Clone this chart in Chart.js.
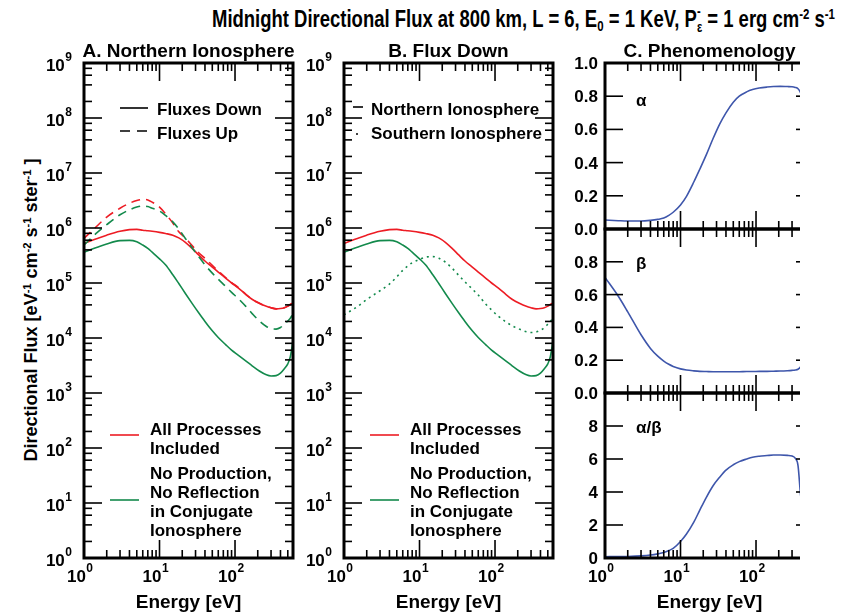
<!DOCTYPE html>
<html><head><meta charset="utf-8">
<script src="https://cdn.jsdelivr.net/npm/chart.js@4.4.1/dist/chart.umd.min.js"></script>
<style>
html,body{margin:0;padding:0;background:#fff;}
#wrap{position:relative;width:841px;height:616px;overflow:hidden;background:#fff;font-family:'Liberation Sans',Arial,Helvetica,sans-serif;color:#000;}
canvas{position:absolute;left:0;top:0;}
#clipC{position:absolute;left:0;top:0;width:800px;height:616px;overflow:hidden;}
#title{position:absolute;left:212px;top:4px;font-weight:bold;font-size:24px;line-height:28px;white-space:nowrap;transform-origin:0 0;}
.sup{font-size:0.62em;position:relative;top:-0.55em;}
.sub{font-size:0.62em;position:relative;top:0.3em;}
.stk{display:inline-block;vertical-align:-0.35em;line-height:1.1;font-size:0.6em;text-align:left;}
#ytitle{position:absolute;width:400px;left:-168px;top:298px;text-align:center;font-weight:bold;font-size:18px;line-height:22px;white-space:nowrap;transform:rotate(-90deg);}
</style></head>
<body>
<div id="wrap">
<div id="title">Midnight Directional Flux at 800 km, L = 6, E<span class="sub">0</span> = 1 KeV, P<span class="stk">-<br>ε</span> = 1 erg cm<span class="sup">-2</span> s<span class="sup">-1</span></div>
<div id="ytitle">Directional Flux [eV<span class="sup">-1</span> cm<span class="sup">-2</span> s<span class="sup">-1</span> ster<span class="sup">-1</span> ]</div>
<canvas id="cA" width="841" height="616"></canvas>
<canvas id="cB" width="841" height="616"></canvas>
<div id="clipC">
<canvas id="cC1" width="841" height="616"></canvas>
<canvas id="cC2" width="841" height="616"></canvas>
<canvas id="cC3" width="841" height="616"></canvas>
</div>
</div>
<script>
// ---------------- data ----------------
const energyAB = [1, 1.5, 2, 3, 4, 5, 6, 7, 8, 10, 12, 15, 18, 22, 27, 33, 40, 50, 60, 75, 90, 110, 140, 170, 210, 260, 300, 350, 400, 450, 500, 540, 586];
const fluxDownAll = [5.25e5, 6.46e5, 7.41e5, 8.71e5, 9.33e5, 9.44e5, 9.12e5, 8.91e5, 8.71e5, 8.32e5, 7.94e5, 7.41e5, 6.61e5, 5.50e5, 4.27e5, 3.24e5, 2.51e5, 1.95e5, 1.58e5, 1.23e5, 1.00e5, 8.13e4, 6.17e4, 5.01e4, 4.27e4, 3.76e4, 3.55e4, 3.39e4, 3.43e4, 3.55e4, 3.80e4, 4.07e4, 4.37e4];
const fluxUpAll = [6.46e5, 1.10e6, 1.58e6, 2.29e6, 2.82e6, 3.16e6, 3.31e6, 3.24e6, 2.95e6, 2.40e6, 1.82e6, 1.23e6, 8.51e5, 6.61e5, 4.79e5, 3.55e5, 2.82e5, 2.09e5, 1.66e5, 1.26e5, 1.02e5, 8.32e4, 6.17e4, 5.01e4, 4.27e4, 3.76e4, 3.55e4, 3.39e4, 3.43e4, 3.55e4, 3.80e4, 4.07e4, 4.37e4];
const fluxDownNoProd = [3.63e5, 4.47e5, 5.13e5, 5.89e5, 5.96e5, 5.62e5, 4.90e5, 4.27e5, 3.63e5, 2.75e5, 2.14e5, 1.41e5, 9.77e4, 6.46e4, 4.27e4, 2.88e4, 2.00e4, 1.35e4, 1.02e4, 7.59e3, 6.03e3, 4.90e3, 3.80e3, 3.09e3, 2.51e3, 2.14e3, 2.04e3, 2.07e3, 2.29e3, 2.75e3, 3.39e3, 4.57e3, 8.91e3];
const fluxUpNoProd = [4.90e5, 8.32e5, 1.15e6, 1.74e6, 2.14e6, 2.40e6, 2.51e6, 2.45e6, 2.29e6, 2.04e6, 1.70e6, 1.29e6, 9.55e5, 6.46e5, 4.37e5, 3.02e5, 2.14e5, 1.51e5, 1.17e5, 8.71e4, 6.76e4, 5.25e4, 3.72e4, 2.75e4, 2.04e4, 1.62e4, 1.48e4, 1.45e4, 1.55e4, 1.78e4, 2.04e4, 2.29e4, 2.75e4];
const fluxDownSouthNoProd = [2.63e4, 3.72e4, 5.01e4, 7.24e4, 9.55e4, 1.29e5, 1.70e5, 2.04e5, 2.34e5, 2.69e5, 2.95e5, 3.02e5, 2.82e5, 2.40e5, 1.86e5, 1.38e5, 1.05e5, 7.76e4, 6.03e4, 4.17e4, 3.24e4, 2.51e4, 1.95e4, 1.66e4, 1.45e4, 1.30e4, 1.26e4, 1.29e4, 1.38e4, 1.55e4, 1.78e4, 2.00e4, 2.29e4];

const energyC = [1, 1.5, 2, 3, 4, 5, 6, 7, 8, 10, 12, 15, 18, 22, 27, 33, 40, 50, 60, 75, 90, 110, 140, 170, 210, 260, 300, 330, 360, 390, 420, 500, 586];
const alphaVals = [0.054, 0.050, 0.048, 0.048, 0.052, 0.058, 0.066, 0.082, 0.101, 0.145, 0.197, 0.283, 0.36, 0.448, 0.545, 0.632, 0.70, 0.764, 0.80, 0.826, 0.840, 0.849, 0.855, 0.858, 0.859, 0.858, 0.857, 0.853, 0.845, 0.82, 0.78, 0.70, 0.65];
const betaVals = [0.705, 0.59, 0.495, 0.355, 0.272, 0.225, 0.195, 0.175, 0.162, 0.147, 0.140, 0.135, 0.132, 0.131, 0.130, 0.130, 0.130, 0.130, 0.130, 0.131, 0.131, 0.132, 0.132, 0.133, 0.134, 0.136, 0.138, 0.140, 0.145, 0.16, 0.19, 0.30, 0.45];
const ratioVals = [0.08, 0.085, 0.095, 0.13, 0.18, 0.25, 0.33, 0.45, 0.58, 1.0, 1.45, 2.17, 2.9, 3.68, 4.38, 4.9, 5.33, 5.65, 5.84, 6.0, 6.11, 6.17, 6.21, 6.24, 6.24, 6.22, 6.18, 6.05, 5.6, 3.8, 3.0, 2.2, 1.8];

const energyDecades = [0, 1, 2];
const fluxDecades = [0, 1, 2, 3, 4, 5, 6, 7, 8, 9];
const alphaTicks = [0, 0.2, 0.4, 0.6, 0.8, 1.0];
const betaTicks = [0, 0.2, 0.4, 0.6, 0.8];
const ratioTicks = [0, 2, 4, 6, 8];

// ---------------- style ----------------
const FONT = "'Liberation Sans', Arial, Helvetica, sans-serif";
const F = s => `bold ${s}px ${FONT}`;
const RED = '#ed1c24', GREEN = '#138a4c', BLUE = '#3e56ab';
const EMAX = 586;
const LW = 1.6;

function pts(xs, ys){ return xs.map((x,i)=>({x:x, y:ys[i]})); }
function ds(xs, ys, color, dash){
  return {data: pts(xs, ys), borderColor: color, borderWidth: LW, pointRadius: 0, borderDash: dash || [],
          cubicInterpolationMode: 'monotone', fill: false};
}
function line(ctx,x1,y1,x2,y2){ctx.beginPath();ctx.moveTo(x1,y1);ctx.lineTo(x2,y2);ctx.stroke();}

function powLabel(ctx, exp, x, y, align){
  ctx.font = F(17); const w1 = ctx.measureText('10').width;
  ctx.font = F(12); const w2 = ctx.measureText(String(exp)).width;
  const W = w1 + w2 + 0.5;
  const x0 = align === 'right' ? x - W : x - W/2;
  ctx.textAlign = 'left'; ctx.textBaseline = 'alphabetic'; ctx.fillStyle = '#000';
  ctx.font = F(17); ctx.fillText('10', x0, y);
  ctx.font = F(12); ctx.fillText(String(exp), x0 + w1 + 0.5, y - 10);
}
function frame(ctx, a){
  ctx.save(); ctx.strokeStyle = '#000'; ctx.lineWidth = 3;
  ctx.strokeRect(a.left, a.top, a.right - a.left, a.bottom - a.top); ctx.restore();
}
function xTicks(ctx, chart){
  const sx = chart.scales.x, a = chart.chartArea;
  ctx.save(); ctx.strokeStyle = '#000'; ctx.lineWidth = 1.6;
  for (let k = 0; k < 3; k++) for (let m = 1; m < 10; m++){
    const v = m * Math.pow(10, k);
    if (v <= sx.min || v >= sx.max) continue;
    const px = sx.getPixelForValue(v);
    const len = m === 1 ? 18 : 8;
    line(ctx, px, a.top, px, a.top + len);
    line(ctx, px, a.bottom, px, a.bottom - len);
  }
  ctx.restore();
}
function xLabels(ctx, chart){
  const sx = chart.scales.x, a = chart.chartArea;
  energyDecades.forEach(e => powLabel(ctx, e, sx.getPixelForValue(Math.pow(10, e)) - 4, a.bottom + 24, 'center'));
  ctx.font = F(19); ctx.textAlign = 'center'; ctx.fillStyle = '#000';
  ctx.fillText('Energy [eV]', (a.left + a.right)/2, 608);
}
function subtitle(ctx, chart, text){
  const a = chart.chartArea;
  ctx.font = F(19); ctx.textAlign = 'center'; ctx.textBaseline = 'alphabetic'; ctx.fillStyle = '#000';
  ctx.fillText(text, (a.left + a.right)/2, 57);
}
function fluxAxes(ctx, chart){
  const sy = chart.scales.y, a = chart.chartArea;
  ctx.save(); ctx.strokeStyle = '#000'; ctx.lineWidth = 1.6;
  for (let k = 0; k <= 9; k++) for (const m of [1, 2, 4, 6, 8]){
    const v = m * Math.pow(10, k);
    if (v <= 1 || v >= 1e9) continue;
    const py = sy.getPixelForValue(v);
    const len = m === 1 ? 18 : 8;
    line(ctx, a.left, py, a.left + len, py);
    line(ctx, a.right, py, a.right - len, py);
  }
  ctx.restore();
  xTicks(ctx, chart);
  frame(ctx, a);
  fluxDecades.forEach(e => powLabel(ctx, e, a.left - 12, sy.getPixelForValue(Math.pow(10, e)) + 8, 'right'));
  xLabels(ctx, chart);
}
function legendLine(ctx, x1, x2, y, color, dash){
  ctx.save(); ctx.strokeStyle = color; ctx.lineWidth = LW; ctx.setLineDash(dash || []);
  line(ctx, x1, y, x2, y); ctx.restore();
}
function textLines(ctx, lines, x, y0, dy){
  ctx.font = F(17); ctx.textAlign = 'left'; ctx.textBaseline = 'alphabetic'; ctx.fillStyle = '#000';
  lines.forEach((t, i) => ctx.fillText(t, x, y0 + i*dy));
}
function processLegend(ctx, L){
  legendLine(ctx, L + 26, L + 55, 435, RED);
  textLines(ctx, ['All Processes', 'Included'], L + 66, 435, 18.5);
  legendLine(ctx, L + 26, L + 55, 500, GREEN);
  textLines(ctx, ['No Production,', 'No Reflection', 'in Conjugate', 'Ionosphere'], L + 66, 478.5, 19);
}

const padAB = (l, r) => ({left: l, right: 841 - r, top: 63, bottom: 616 - 558});
function baseOptions(padding, yScale){
  return {
    responsive: false, animation: false, events: [],
    layout: {padding: padding},
    scales: {
      x: {type: 'logarithmic', min: 1, max: EMAX, display: false},
      y: yScale
    },
    plugins: {legend: {display: false}, tooltip: {enabled: false}, title: {display: false}}
  };
}

// ---------------- Panel A ----------------
new Chart(document.getElementById('cA'), {
  type: 'line',
  data: {datasets: [
    ds(energyAB, fluxUpNoProd, GREEN, [9, 6]),
    ds(energyAB, fluxDownNoProd, GREEN),
    ds(energyAB, fluxDownAll, RED),
    ds(energyAB, fluxUpAll, RED, [9, 6])
  ]},
  options: baseOptions(padAB(84, 293), {type: 'logarithmic', min: 1, max: 1e9, display: false}),
  plugins: [{id: 'decoA', afterDraw(chart){
    const ctx = chart.ctx, a = chart.chartArea;
    fluxAxes(ctx, chart);
    subtitle(ctx, chart, 'A. Northern Ionosphere');
    legendLine(ctx, 120, 148, 108, '#000');
    legendLine(ctx, 120, 148, 131, '#000', [10, 7]);
    textLines(ctx, ['Fluxes Down', 'Fluxes Up'], 157, 115, 24);
    processLegend(ctx, a.left);
  }}]
});

// ---------------- Panel B ----------------
new Chart(document.getElementById('cB'), {
  type: 'line',
  data: {datasets: [
    ds(energyAB, fluxDownSouthNoProd, GREEN, [2, 4]),
    ds(energyAB, fluxDownNoProd, GREEN),
    ds(energyAB, fluxDownAll, RED)
  ]},
  options: baseOptions(padAB(344, 553), {type: 'logarithmic', min: 1, max: 1e9, display: false}),
  plugins: [{id: 'decoB', afterDraw(chart){
    const ctx = chart.ctx, a = chart.chartArea;
    fluxAxes(ctx, chart);
    subtitle(ctx, chart, 'B. Flux Down');
    legendLine(ctx, 353, 363, 107, '#000');
    legendLine(ctx, 356, 360, 134, '#000', [2, 4]);
    textLines(ctx, ['Northern Ionosphere', 'Southern Ionosphere'], 371, 115, 24);
    processLegend(ctx, a.left);
  }}]
});

// ---------------- Panel C ----------------
function phenAxes(ctx, chart, ticks, fmt, label, labelY){
  const sy = chart.scales.y, a = chart.chartArea;
  ctx.save(); ctx.strokeStyle = '#000'; ctx.lineWidth = 1.6;
  ticks.forEach(v => {
    if (v <= sy.min || v >= sy.max) return;
    const py = sy.getPixelForValue(v);
    line(ctx, a.left, py, a.left + 18, py);
    line(ctx, a.right, py, a.right - 18, py);
  });
  ctx.restore();
  xTicks(ctx, chart);
  frame(ctx, a);
  ctx.font = F(17); ctx.textAlign = 'right'; ctx.textBaseline = 'alphabetic'; ctx.fillStyle = '#000';
  ticks.forEach(v => ctx.fillText(fmt(v), a.left - 7, sy.getPixelForValue(v) + 6));
  ctx.textAlign = 'left';
  ctx.fillText(label, 636, labelY);
}
const padC = (t, b) => ({left: 605, right: 841 - 814, top: t, bottom: 616 - b});

new Chart(document.getElementById('cC1'), {
  type: 'line',
  data: {datasets: [ds(energyC, alphaVals, BLUE)]},
  options: baseOptions(padC(63, 229), {type: 'linear', min: 0, max: 1, display: false}),
  plugins: [{id: 'decoC1', afterDraw(chart){
    const ctx = chart.ctx;
    phenAxes(ctx, chart, alphaTicks, v => v.toFixed(1), 'α', 106);
    subtitle(ctx, chart, 'C. Phenomenology');
  }}]
});
new Chart(document.getElementById('cC2'), {
  type: 'line',
  data: {datasets: [ds(energyC, betaVals, BLUE)]},
  options: baseOptions(padC(229, 393), {type: 'linear', min: 0, max: 1, display: false}),
  plugins: [{id: 'decoC2', afterDraw(chart){
    phenAxes(chart.ctx, chart, betaTicks, v => v.toFixed(1), 'β', 269);
  }}]
});
new Chart(document.getElementById('cC3'), {
  type: 'line',
  data: {datasets: [ds(energyC, ratioVals, BLUE)]},
  options: baseOptions(padC(393, 558), {type: 'linear', min: 0, max: 10, display: false}),
  plugins: [{id: 'decoC3', afterDraw(chart){
    const ctx = chart.ctx;
    phenAxes(ctx, chart, ratioTicks, v => String(v), 'α/β', 433);
    xLabels(ctx, chart);
  }}]
});

// fit title width
const t = document.getElementById('title');
const w = t.getBoundingClientRect().width;
t.style.transform = 'scaleX(' + (623 / w) + ')';
</script>
</body></html>
